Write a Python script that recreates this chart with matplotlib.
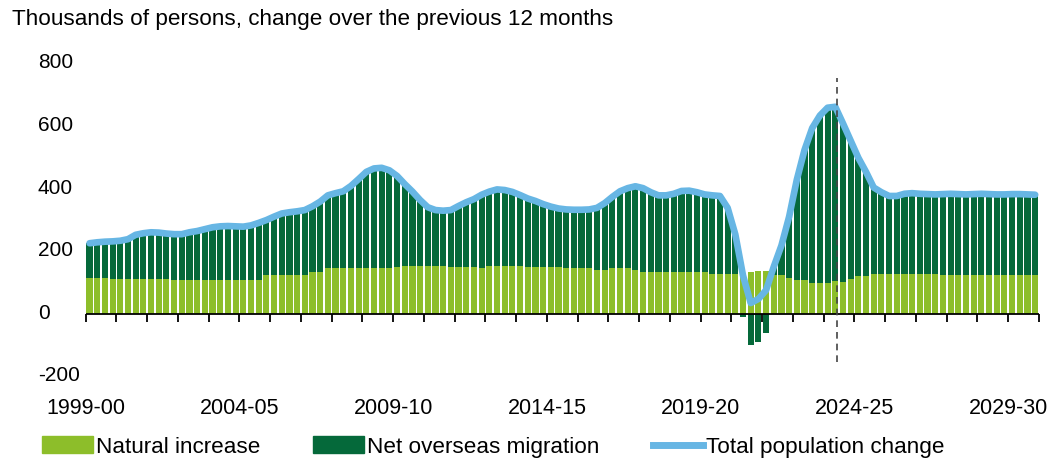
import numpy as np
import matplotlib
matplotlib.use("Agg")
import matplotlib.pyplot as plt
import matplotlib.transforms as mtransforms
from matplotlib.patches import Patch
from matplotlib.lines import Line2D

# quarterly, change over previous 12 months ('000 persons), 1999-00 to 2029-30
natural = [117, 117, 117, 113, 113, 113, 113, 113, 113, 113, 113,
           109, 109, 109, 109, 109, 109, 109, 109, 109, 109, 109, 109,
           124, 124, 124, 124, 124, 124, 136, 136,
           148, 148, 148, 148, 148, 148, 148, 148, 148, 150,
           154, 154, 154, 154, 154, 154, 150, 150, 150, 150, 148,
           154, 154, 154, 154, 154, 151, 151, 151, 151, 151,
           148, 148, 148, 148, 143, 143, 148, 148, 148, 143,
           135, 135, 135, 135, 135, 135, 135, 135, 135,
           128, 128, 128, 128, 132, 135, 137, 137, 127, 127, 117,
           109, 109, 101, 101, 101, 105, 103, 112, 121, 121,
           128, 128, 128, 128, 128, 128, 128, 128, 128,
           125, 125, 125, 125, 125, 125, 125, 125, 125, 125, 125, 125, 125]

overseas = [110, 113, 115, 120, 122, 127, 141, 146, 149, 148, 145,
            147, 147, 153, 157, 163, 169, 172, 173, 172, 171, 175, 183,
            177, 188, 198, 202, 205, 209, 209, 224,
            232, 239, 245, 262, 284, 307, 318, 320, 312, 292,
            262, 238, 211, 188, 179, 177, 183, 196, 208, 218, 234,
            238, 245, 243, 237, 227, 219, 211, 201, 193, 187,
            187, 186, 186, 187, 197, 212, 227, 245, 255, 266,
            268, 255, 245, 245, 250, 259, 260, 255, 248,
            252, 250, 212, 127, -8, -99, -88, -60, 25, 93, 195,
            321, 416, 494, 534, 559, 558, 507, 443, 379, 334,
            277, 262, 250, 250, 257, 259, 257, 256, 255,
            259, 260, 259, 258, 259, 260, 259, 258, 258, 259, 259, 258, 257]

year_labels = ["1999-00", "2004-05", "2009-10", "2014-15", "2019-20", "2024-25", "2029-30"]
forecast_start = 97.2  # position of the dashed line (bar index)

c_nat = "#8dbe2a"
c_nom = "#05693a"
c_tot = "#67b6e4"

natural = np.array(natural)
overseas = np.array(overseas)
total = natural + overseas
x = np.arange(len(natural))

plt.rcParams["font.family"] = ["Liberation Sans", "DejaVu Sans"]

fig = plt.figure(figsize=(10.53, 4.61), dpi=100)
ax = fig.add_axes([85.7 / 1053, 84.1 / 461, 953.3 / 1053, 313.0 / 461])

ax.bar(x, natural, width=0.8, color=c_nat, zorder=2)
nom_bottom = np.where(overseas >= 0, natural, 0)
ax.bar(x, overseas, bottom=nom_bottom, width=0.8, color=c_nom, zorder=2)
ax.plot(x, total, color=c_tot, lw=4.8, solid_joinstyle="round", solid_capstyle="round", zorder=4)

ax.axhline(0, color="black", lw=1.3, zorder=3)
ax.plot([forecast_start, forecast_start], [-152, 755], color="#444444", lw=1.2,
        ls=(0, (4, 3)), zorder=5)

ax.set_xlim(-0.5, len(x) - 0.5)
ax.set_ylim(-200, 800)
for s in ax.spines.values():
    s.set_visible(False)

ax.set_yticks([800, 600, 400, 200, 0, -200])
ax.set_yticklabels(["800", "600", "400", "200", "0", "-200"])
ax.tick_params(axis="y", length=0, pad=34.5, labelsize=15)
shift = mtransforms.ScaledTranslation(0, 3 / 100, fig.dpi_scale_trans)
for lab in ax.get_yticklabels():
    lab.set_horizontalalignment("left")
    lab.set_transform(lab.get_transform() + shift)

ax.set_xticks([-0.5 + 20 * k for k in range(len(year_labels))])
ax.set_xticklabels(year_labels)
ax.tick_params(axis="x", length=0, pad=15, labelsize=15.5)

sec = ax.secondary_xaxis(0.2)
sec.set_xticks([-0.5 + 4 * k for k in range(32)])
sec.set_xticklabels([])
sec.tick_params(axis="x", length=6, width=1.3, direction="out", color="black")
for s in sec.spines.values():
    s.set_visible(False)

fig.text(12 / 1053, 1 - 20 / 461, "Thousands of persons, change over the previous 12 months",
         fontsize=16.2, va="center", ha="left")

handles = [Patch(color=c_nat), Patch(color=c_nom), Line2D([0], [0], color=c_tot, lw=5)]
fig.legend(handles, ["Natural increase", "Net overseas migration", "Total population change"],
           loc="center left", bbox_to_anchor=(42 / 1053, 14 / 461), ncol=3, frameon=False,
           fontsize=16.2, handlelength=2.25, handleheight=0.75, handletextpad=0.15,
           columnspacing=2.35, borderpad=0, borderaxespad=0)

fig.savefig("out.png", dpi=100)
